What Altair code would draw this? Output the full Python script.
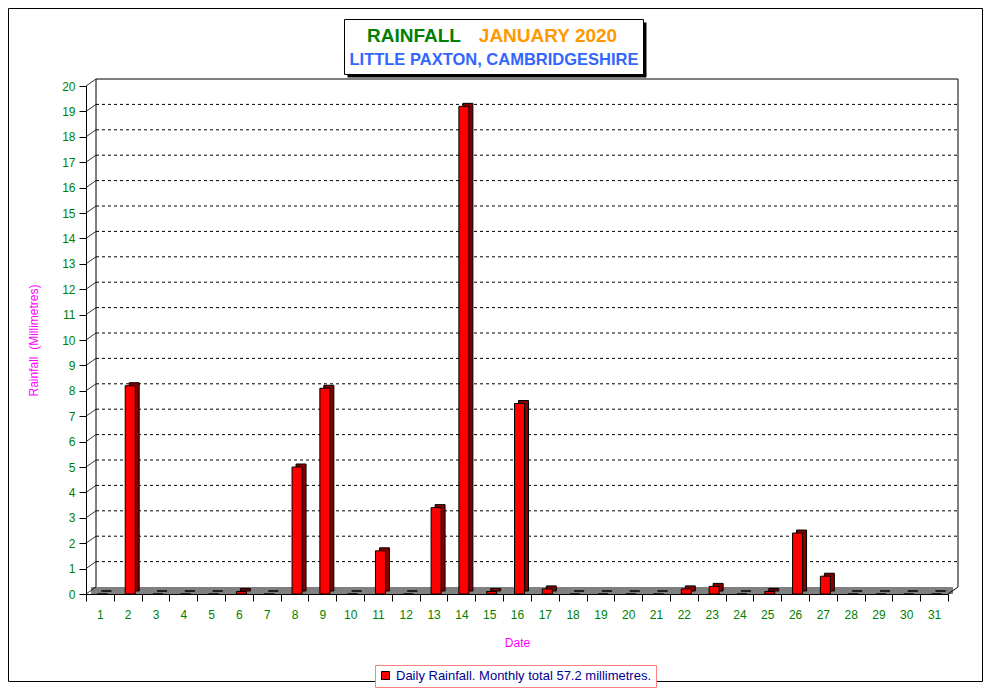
import altair as alt
import pandas as pd

# ---------------- data ----------------
days = list(range(1, 32))
rain = [0, 8.2, 0, 0, 0, 0.1, 0, 5.0, 8.1, 0, 1.7, 0, 3.4, 19.2, 0.1, 7.5,
        0.2, 0, 0, 0, 0, 0.2, 0.3, 0, 0.1, 2.4, 0.7, 0, 0, 0, 0]
y_ticks = list(range(0, 21))
grid_values = list(range(1, 20))
title_main = "RAINFALL"
title_month = "JANUARY 2020"
title_place = "LITTLE PAXTON, CAMBRIDGESHIRE"
x_title = "Date"
y_title = "Rainfall\u00a0 (Millimetres)"
legend_label = f"Daily Rainfall. Monthly total {sum(rain):.1f} millimetres."

# ---------------- layout / style ----------------
W, H = 862, 508
DX, DY = 10, -7          # depth of the 3D walls (px)
FONT = "Liberation Sans"
GREEN = "#008000"
MAGENTA = "#ff00ff"

df = pd.DataFrame({"day": days, "rain": rain, "series": legend_label})
one = pd.DataFrame({"k": [0]})

x_scale = alt.Scale(domain=days, paddingInner=0, paddingOuter=0)
y_scale = alt.Scale(domain=[0, 20], nice=False, zero=True)

x_axis = alt.Axis(labelAngle=0, tickBand="extent", tickSize=7, labelPadding=8,
                  labelColor=GREEN, labelFont=FONT, labelFontSize=12,
                  domainColor="black", tickColor="black", grid=False,
                  title=x_title, titleColor=MAGENTA, titleFont=FONT, titleFontSize=12,
                  titleFontWeight="normal", titlePadding=17)
y_axis = alt.Axis(values=y_ticks, tickSize=7, labelPadding=4,
                  labelColor=GREEN, labelFont=FONT, labelFontSize=12,
                  domainColor="black", tickColor="black", grid=False,
                  title=y_title, titleColor=MAGENTA, titleFont=FONT, titleFontSize=12,
                  titleFontWeight="normal", titlePadding=21)

# outer frame
frame = alt.Chart(one).mark_rect(fill="transparent", stroke="black", strokeWidth=1).encode(
    x=alt.value(-77.5), x2=alt.value(896.5), y=alt.value(-77.5), y2=alt.value(595.5))

# title box with shadow
shadow = alt.Chart(one).mark_rect(fill="black").encode(
    x=alt.value(261.5), x2=alt.value(560.5), y=alt.value(-63.5), y2=alt.value(-8.5))
tbox = alt.Chart(one).mark_rect(fill="white", stroke="black", strokeWidth=1).encode(
    x=alt.value(258.5), x2=alt.value(557.5), y=alt.value(-66.5), y2=alt.value(-11.5))
t1 = alt.Chart(pd.DataFrame({"t": [title_main]})).mark_text(
    font=FONT, fontSize=19, fontWeight="bold", color=GREEN, align="center", baseline="middle"
).encode(text="t:N", x=alt.value(328), y=alt.value(-50))
t2 = alt.Chart(pd.DataFrame({"t": [title_month]})).mark_text(
    font=FONT, fontSize=19, fontWeight="bold", color="#ff9900", align="center", baseline="middle"
).encode(text="t:N", x=alt.value(462), y=alt.value(-50))
t3 = alt.Chart(pd.DataFrame({"t": [title_place]})).mark_text(
    font=FONT, fontSize=16.5, fontWeight="bold", color="#3366ff", align="center", baseline="middle"
).encode(text="t:N", x=alt.value(408), y=alt.value(-26.5))

# floor (gray strip at the base)
floor = alt.Chart(one).mark_rect(color="#808080").encode(
    x=alt.value(DX / 2), x2=alt.value(W + DX / 2), y=alt.value(H), y2=alt.value(H + DY))

# walls
wall_left = alt.Chart(one).mark_rule(color="black").encode(
    x=alt.value(DX), y=alt.value(H + DY), y2=alt.value(DY))
wall_right = alt.Chart(one).mark_rule(color="black").encode(
    x=alt.value(W + DX), y=alt.value(H + DY), y2=alt.value(DY))
wall_top = alt.Chart(one).mark_rule(color="black").encode(
    x=alt.value(DX), x2=alt.value(W + DX), y=alt.value(DY))
floor_right = alt.Chart(one).mark_rule(color="black").encode(
    x=alt.value(W), x2=alt.value(W + DX), y=alt.value(H), y2=alt.value(H + DY))
diag = alt.Chart(pd.DataFrame({"v": y_ticks})).mark_rule(
    color="black", strokeWidth=0.8, y2Offset=DY).encode(
    x=alt.value(0), x2=alt.value(DX),
    y=alt.Y("v:Q", scale=y_scale, axis=y_axis), y2="v:Q")
grid = alt.Chart(pd.DataFrame({"v": grid_values})).mark_rule(
    color="black", strokeDash=[3, 3], yOffset=DY).encode(
    x=alt.value(DX), x2=alt.value(W + DX), y=alt.Y("v:Q", scale=y_scale, axis=y_axis))

bars_back = alt.Chart(df).mark_bar(color="#800000", stroke="black", strokeWidth=1,
                                   size=10, xOffset=6.5, yOffset=-3).encode(
    x=alt.X("day:O", scale=x_scale, axis=x_axis),
    y=alt.Y("rain:Q", scale=y_scale, axis=y_axis))

bars_front = alt.Chart(df).mark_bar(stroke="black", strokeWidth=1, size=10, xOffset=2.5).encode(
    x=alt.X("day:O", scale=x_scale, axis=x_axis),
    y=alt.Y("rain:Q", scale=y_scale, axis=y_axis),
    color=alt.Color("series:N", scale=alt.Scale(range=["#ff0000"]),
                    legend=alt.Legend(title=None, orient="none", legendX=289, legendY=579,
                                      padding=4, strokeColor="#ff8080", fillColor="white",
                                      symbolType="square", symbolSize=64,
                                      symbolStrokeColor="black", symbolStrokeWidth=1,
                                      labelColor="#000090", labelFont=FONT, labelFontSize=13,
                                      labelOffset=4, labelLimit=400)))

chart = alt.layer(
    frame, shadow, tbox, t1, t2, t3,
    floor, grid, wall_left, wall_right, wall_top, floor_right, diag,
    bars_back, bars_front
).properties(
    width=W, height=H,
    autosize=alt.AutoSizeParams(type="none"),
    padding={"left": 78, "top": 78, "right": 35, "bottom": 96},
    background="white",
).configure(font=FONT).configure_view(strokeWidth=0)

chart.save("out.html", embed_options={"renderer": "svg", "actions": False})
